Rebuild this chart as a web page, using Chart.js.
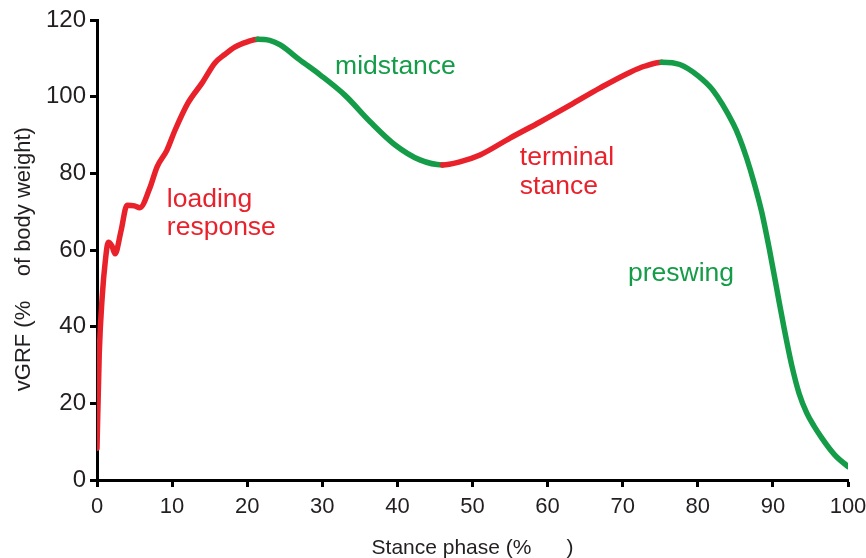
<!DOCTYPE html>
<html>
<head>
<meta charset="utf-8">
<script src="https://cdn.jsdelivr.net/npm/chart.js@4.4.1/dist/chart.umd.min.js"></script>
<style>
  html, body { margin: 0; padding: 0; background: #fff; }
  #wrap { width: 866px; height: 558px; }
</style>
</head>
<body>
<div id="wrap"><canvas id="grfChart"></canvas></div>
<script>
// 曲线数据
const stancePct = [0, 0.3, 0.7, 1.1, 1.5, 2.0, 2.4, 3.2, 4.0, 5.0, 5.7, 7.0, 8.0, 9.3, 10.4, 12.1, 14.0, 15.7, 17.0, 18.4, 20.0, 21.4,
    23.0, 24.4, 27.0, 29.7, 33.0, 36.4, 39.7, 43.0, 46.0,
    48.3, 51.0, 55.0, 59.0, 63.0, 67.0, 71.0, 73.0, 75.2,
    77.6, 80.0, 82.0, 84.7, 85.5, 86.5, 87.5, 88.5, 89.5, 90.5, 91.5, 92.5, 93.5, 94.5, 95.5, 96.5, 97.5, 98.5, 100];
const vgrf = [8.3, 33, 48, 57, 62, 61, 59, 65, 71.7, 71.5, 71, 76, 81.7, 86, 91.3, 98.3, 103.6, 108.8, 111, 113, 114.3, 115,
    114.7, 113.5, 109.6, 105.7, 100.4, 93.4, 87.4, 83.5, 82.2,
    83, 84.8, 89.2, 93.4, 97.8, 102.3, 106.4, 108, 109,
    108.4, 105.5, 101.7, 93, 89.5, 84, 77.5, 70, 60.5, 50, 39.5, 30, 22.5, 17.5, 14, 11, 8.3, 6, 3.5];

// 步态阶段分界与颜色
const phaseBounds = [0, 21.4, 46.0, 75.2, 100];
const phaseColors = ['#e8212b', '#149c48', '#e8212b', '#149c48'];

// 坐标轴刻度
const xTicks = [0, 10, 20, 30, 40, 50, 60, 70, 80, 90, 100];
const yTicks = [0, 20, 40, 60, 80, 100, 120];

// 阶段文字
const phaseLabels = [
    { lines: ['loading', 'response'], x: 9.3, y: [71.2, 63.9], color: '#e8212b' },
    { lines: ['midstance'], x: 31.7, y: [105.9], color: '#149c48' },
    { lines: ['terminal', 'stance'], x: 56.3, y: [82.2, 74.6], color: '#e8212b' },
    { lines: ['preswing'], x: 70.7, y: [51.9], color: '#149c48' }
];

const FONT = "'Liberation Sans', Arial, sans-serif";
const NB = '\u00a0';

function phaseColor(x) {
    for (let i = 0; i < phaseBounds.length - 1; i++) {
        if (x < phaseBounds[i + 1]) return phaseColors[i];
    }
    return phaseColors[phaseColors.length - 1];
}

// 绘制阶段文字
const phaseTextPlugin = {
    id: 'phaseText',
    afterDatasetsDraw(chart) {
        const ctx = chart.ctx;
        const xs = chart.scales.x, ys = chart.scales.y;
        ctx.save();
        ctx.font = `26.5px ${FONT}`;
        ctx.textAlign = 'left';
        ctx.textBaseline = 'alphabetic';
        phaseLabels.forEach(lbl => {
            ctx.fillStyle = lbl.color;
            lbl.lines.forEach((t, i) => {
                ctx.fillText(t, xs.getPixelForValue(lbl.x), ys.getPixelForValue(lbl.y[i]));
            });
        });
        ctx.restore();
    }
};

const ctx = document.getElementById('grfChart');
new Chart(ctx, {
    type: 'line',
    data: {
        datasets: [{
            data: stancePct.map((x, i) => ({ x: x, y: vgrf[i] })),
            borderWidth: 5.5,
            borderColor: phaseColors[0],
            borderCapStyle: 'round',
            pointRadius: 0,
            cubicInterpolationMode: 'monotone',
            segment: {
                borderColor: c => phaseColor(c.p0.parsed.x)
            }
        }]
    },
    options: {
        responsive: true,
        maintainAspectRatio: false,
        animation: false,
        layout: { padding: { top: 20, right: 18, left: 0, bottom: 0 } },
        plugins: { legend: { display: false }, tooltip: { enabled: false } },
        scales: {
            x: {
                type: 'linear',
                min: 0, max: 100,
                afterFit: s => { s.height = 78; s.paddingRight = 0; s.paddingLeft = 0; },
                afterBuildTicks: s => { s.ticks = xTicks.map(v => ({ value: v })); },
                border: { color: '#000', width: 3 },
                grid: { drawOnChartArea: false, tickLength: 7, tickWidth: 3, tickColor: '#000' },
                ticks: { color: '#231f20', padding: 7, maxRotation: 0, font: { family: FONT, size: 22 } },
                title: {
                    display: true,
                    text: 'Stance phase (%' + NB.repeat(6) + ')',
                    color: '#231f20',
                    padding: { top: 4, bottom: -3 },
                    font: { family: FONT, size: 21 }
                }
            },
            y: {
                min: 0, max: 120,
                afterFit: s => { s.width = 97; },
                afterBuildTicks: s => { s.ticks = yTicks.map(v => ({ value: v })); },
                border: { color: '#000', width: 3 },
                grid: { drawOnChartArea: false, tickLength: 7, tickWidth: 3, tickColor: '#000' },
                ticks: { color: '#231f20', padding: 4, font: { family: FONT, size: 24 } },
                title: {
                    display: true,
                    text: 'vGRF (%' + NB.repeat(4) + 'of body weight)' + NB.repeat(3),
                    color: '#231f20',
                    padding: { bottom: 0, top: 11 },
                    font: { family: FONT, size: 22 }
                }
            }
        }
    },
    plugins: [phaseTextPlugin]
});
</script>
</body>
</html>
